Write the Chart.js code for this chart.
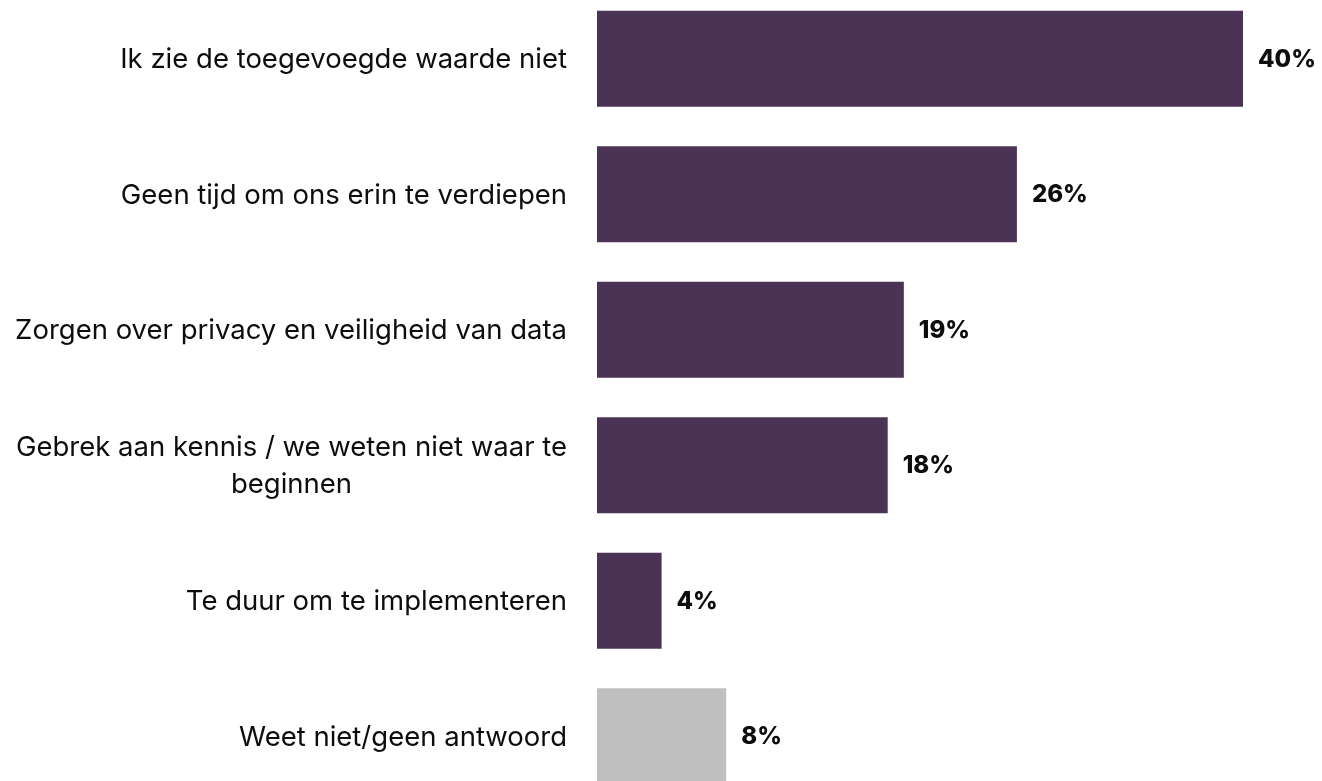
<!DOCTYPE html>
<html>
<head>
<meta charset="utf-8">
<script src="https://cdn.jsdelivr.net/npm/chart.js@4/dist/chart.umd.min.js"></script>
<style>
  html, body { margin: 0; padding: 0; background: #ffffff; overflow: hidden; }
  #wrap { position: absolute; left: 0; top: -9px; width: 1322px; height: 813px; }
</style>
</head>
<body>
<div id="wrap"><canvas id="chart"></canvas></div>
<script>
// Redenen om (nog) niet te starten, aandeel respondenten in %
const categories = [
  ["Ik zie de toegevoegde waarde niet"],
  ["Geen tijd om ons erin te verdiepen"],
  ["Zorgen over privacy en veiligheid van data"],
  ["Gebrek aan kennis / we weten niet waar te", "beginnen"],
  ["Te duur om te implementeren"],
  ["Weet niet/geen antwoord"]
];
const values = [40, 26, 19, 18, 4, 8];
const barColors = ["#4B3355", "#4B3355", "#4B3355", "#4B3355", "#4B3355", "#BFBFBF"];

const LABEL_FONT = '27.5px Inter, "Open Sans", sans-serif';
const VALUE_FONT = '800 24px Inter, "Open Sans", sans-serif';

// Draws the category text left of the bars and the value after each bar
const labelPlugin = {
  id: 'barLabels',
  afterDatasetsDraw(chart) {
    const ctx = chart.ctx;
    const meta = chart.getDatasetMeta(0);
    const yScale = chart.scales.y;
    ctx.save();
    ctx.fillStyle = '#0d0d0d';
    ctx.textBaseline = 'middle';
    categories.forEach((lines, i) => {
      const y = yScale.getPixelForTick(i) + 1;
      const lh = 37;
      ctx.font = LABEL_FONT;
      const widths = lines.map(l => ctx.measureText(l).width);
      const maxW = Math.max(...widths);
      const right = chart.chartArea.left - 30;
      const center = right - maxW / 2;
      lines.forEach((l, k) => {
        const ly = y + (k - (lines.length - 1) / 2) * lh;
        ctx.textAlign = 'center';
        ctx.fillText(l, center, ly);
      });
      const bar = meta.data[i];
      ctx.font = VALUE_FONT;
      ctx.textAlign = 'left';
      ctx.fillText(values[i] + '%', bar.x + 15, bar.y + 1);
    });
    ctx.restore();
  }
};

new Chart(document.getElementById('chart'), {
  type: 'bar',
  data: {
    labels: categories,
    datasets: [{
      data: values,
      backgroundColor: barColors,
      borderWidth: 0,
      barPercentage: 0.71,
      categoryPercentage: 1.0
    }]
  },
  options: {
    indexAxis: 'y',
    responsive: true,
    maintainAspectRatio: false,
    animation: false,
    layout: { padding: { left: 597, right: 79, top: 0, bottom: 0 } },
    scales: {
      x: { display: false, min: 0, max: 40, grid: { display: false } },
      y: { display: false, grid: { display: false } }
    },
    plugins: {
      legend: { display: false },
      tooltip: { enabled: false }
    }
  },
  plugins: [labelPlugin]
});
</script>
</body>
</html>
